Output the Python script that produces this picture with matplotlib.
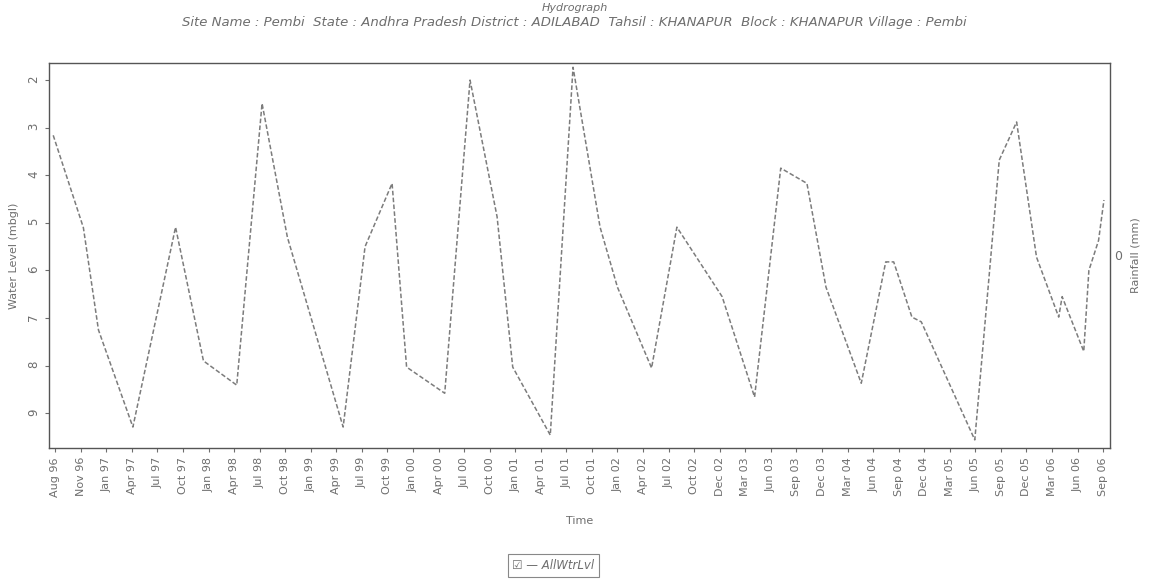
import numpy as np
import pandas as pd
import matplotlib
matplotlib.use("Agg")
import matplotlib.pyplot as plt
import matplotlib.dates as mdates

# water level readings (m below ground level)
dates = ["1996-08-08", "1996-11-22", "1997-01-14", "1997-05-15", "1997-10-12",
         "1998-01-18", "1998-05-15", "1998-08-12", "1998-11-09", "1999-05-24",
         "1999-08-09", "1999-11-12", "2000-01-02", "2000-05-15", "2000-08-12",
         "2000-11-15", "2001-01-09", "2001-05-21", "2001-08-09", "2001-11-12",
         "2002-01-12", "2002-05-12", "2002-08-09", "2003-01-15", "2003-05-09",
         "2003-08-09", "2003-11-09", "2004-01-15", "2004-05-18", "2004-08-12",
         "2004-09-09", "2004-11-12", "2004-12-15", "2005-06-21", "2005-09-15",
         "2005-11-15", "2006-01-24", "2006-04-12", "2006-04-24", "2006-07-09",
         "2006-07-27", "2006-08-30", "2006-09-18"]
water_level = [3.16, 5.10, 7.25, 9.29, 5.09,
               7.90, 8.41, 2.49, 5.30, 9.29,
               5.50, 4.17, 8.03, 8.58, 2.00,
               4.87, 8.03, 9.46, 1.73, 5.09,
               6.35, 8.05, 5.09, 6.55, 8.66,
               3.85, 4.17, 6.35, 8.37, 5.82,
               5.82, 6.98, 7.08, 9.56, 3.68,
               2.88, 5.72, 6.98, 6.55, 7.70,
               6.00, 5.37, 4.52]

tick_labels = ["Aug 96", "Nov 96", "Jan 97", "Apr 97", "Jul 97", "Oct 97", "Jan 98",
               "Apr 98", "Jul 98", "Oct 98", "Jan 99", "Apr 99", "Jul 99", "Oct 99",
               "Jan 00", "Apr 00", "Jul 00", "Oct 00", "Jan 01", "Apr 01", "Jul 01",
               "Oct 01", "Jan 02", "Apr 02", "Jul 02", "Oct 02", "Dec 02", "Mar 03",
               "Jun 03", "Sep 03", "Dec 03", "Mar 04", "Jun 04", "Sep 04", "Dec 04",
               "Mar 05", "Jun 05", "Sep 05", "Dec 05", "Mar 06", "Jun 06", "Sep 06"]

subtitle = ("Site Name : Pembi  State : Andhra Pradesh District : ADILABAD  "
            "Tahsil : KHANAPUR  Block : KHANAPUR Village : Pembi")

x = mdates.date2num(pd.to_datetime(dates))
tick_pos = np.linspace(mdates.date2num(pd.Timestamp("1996-08-15")),
                       mdates.date2num(pd.Timestamp("2006-09-15")), len(tick_labels))

grey = "#6e6e6e"
fig = plt.figure(figsize=(11.49, 5.83), dpi=100)
ax = fig.add_axes([0.0426, 0.2316, 0.9234, 0.6604])

ax.plot(x, water_level, color="#7c7c7c", lw=1.1, ls=(0, (3, 1.5)))

ax.set_xlim(mdates.date2num(pd.Timestamp("1996-07-24")),
            mdates.date2num(pd.Timestamp("2006-10-09")))
ax.set_ylim(9.73, 1.64)
ax.set_yticks(range(2, 10))
ax.set_xticks(tick_pos)
ax.set_xticklabels(tick_labels, rotation=90, fontsize=8, color=grey)
ax.tick_params(axis="y", labelsize=8.5, labelcolor=grey, rotation=90, length=3, color=grey)
ax.tick_params(axis="x", length=3, color=grey)
for s in ax.spines.values():
    s.set_color("#555555")
    s.set_linestyle((0, (4, 1)))
    s.set_linewidth(1.0)

ax.set_ylabel("Water Level (mbgl)", fontsize=8, color=grey, labelpad=6)
ax.set_xlabel("Time", fontsize=8, color=grey, labelpad=14)

ax2 = ax.twinx()
ax2.set_ylim(-1, 1)
ax2.set_yticks([0])
ax2.tick_params(axis="y", labelsize=9, labelcolor=grey, length=0, pad=3)
ax2.set_ylabel("Rainfall (mm)", fontsize=8, color=grey, labelpad=6)
for s in ax2.spines.values():
    s.set_visible(False)

fig.text(0.5, 0.986, "Hydrograph", ha="center", va="center", fontsize=8,
         style="italic", color=grey)
fig.text(0.5, 0.961, subtitle, ha="center", va="center", fontsize=9.5,
         style="italic", color=grey)

fig.text(0.446, 0.03, "\u2611 \u2014 AllWtrLvl", ha="left", va="center", fontsize=8.5,
         style="italic", color=grey,
         bbox=dict(boxstyle="square,pad=0.4", fc="white", ec="#888888", lw=0.8))

fig.savefig("out.png", dpi=100)
